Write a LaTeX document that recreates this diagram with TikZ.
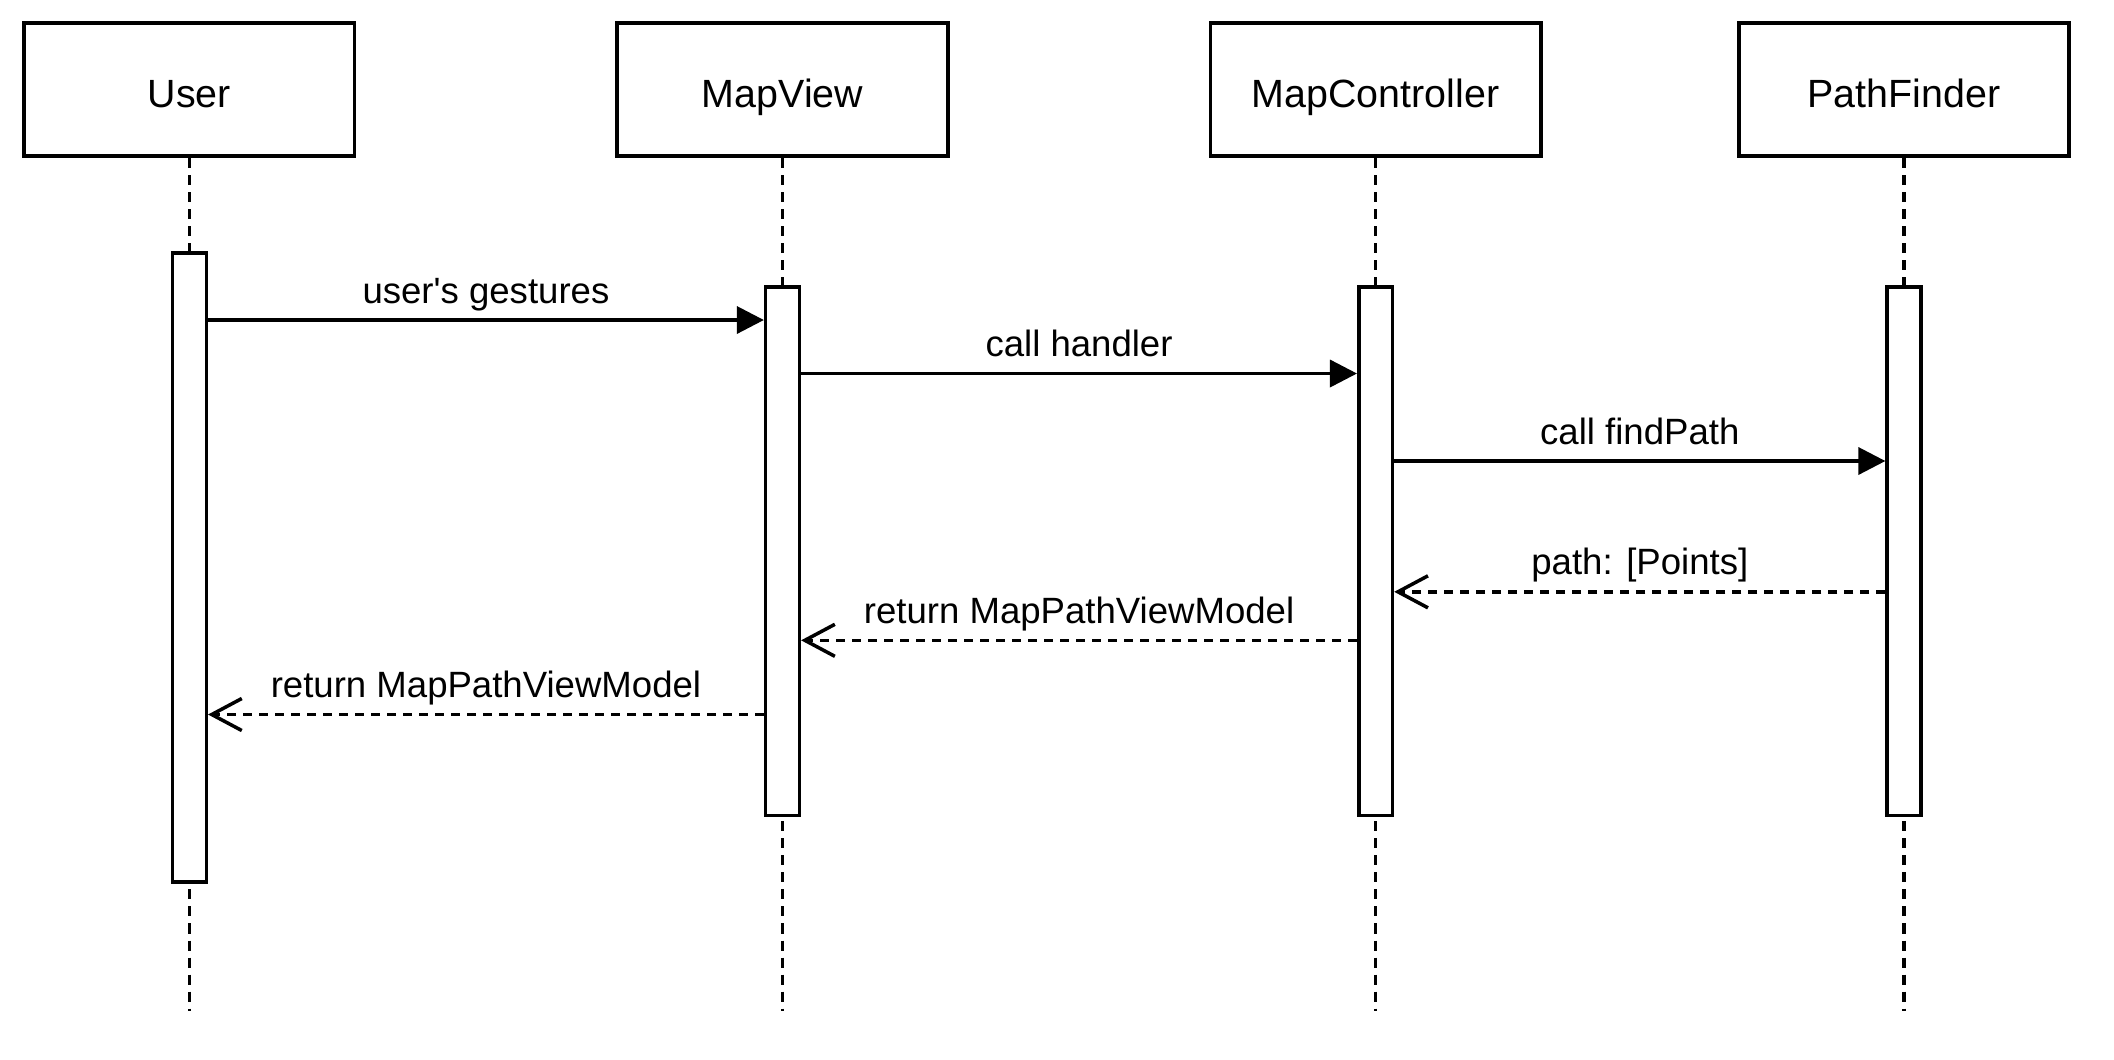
\documentclass[tikz,border=0pt]{standalone}
\usepackage{fontspec}
\setmainfont{Liberation Sans}
\usepackage{tikz}
\usetikzlibrary{arrows.meta,calc}

\begin{document}
\begin{tikzpicture}[x=0.01cm,y=-0.01cm]
\tikzstyle{obj}=[draw=black,line width=1.1pt,minimum width=3.3cm,minimum height=1.33cm,text height=2.2ex,text depth=0.3ex,font=\fontsize{11.2}{13}\selectfont]
\tikzstyle{act}=[draw=black,fill=white,line width=1pt,minimum width=0.337cm,inner sep=0pt]
\tikzstyle{life}=[line width=0.9pt,dash pattern=on 0.1cm off 0.07cm]
\tikzstyle{call}=[-{Triangle[length=0.27cm,width=0.27cm]},line width=1pt]
\tikzstyle{ret}=[-{Straight Barb[length=0.3cm,width=0.32cm]},line width=1pt,dash pattern=on 0.09cm off 0.07cm]
\tikzstyle{msg}=[font=\fontsize{10.4}{13}\selectfont,anchor=base,yshift=0.17cm,inner sep=0pt]

\useasboundingbox (0,0) rectangle (2114,1059);

\node[obj] (uBox) at (189.4,89.5) {User};
\node[obj] (vBox) at (782.5,89.5) {MapView};
\node[obj] (cBox) at (1375.6,89.5) {MapController};
\node[obj] (fBox) at (1904,89.5) {PathFinder};

\coordinate (uEnd) at (189.4,1011);
\coordinate (vEnd) at (782.5,1011);
\coordinate (cEnd) at (1375.6,1011);
\coordinate (fEnd) at (1904,1011);
\draw[life] (uBox.south) -- (uEnd);
\draw[life] (vBox.south) -- (vEnd);
\draw[life] (cBox.south) -- (cEnd);
\draw[life] (fBox.south) -- (fEnd);

\node[act,minimum height=6.282cm] (uAct) at (189.4,567.5) {};
\node[act,minimum height=5.285cm] (vAct) at (782.5,551.25) {};
\node[act,minimum height=5.285cm] (cAct) at (1375.6,551.25) {};
\node[act,minimum height=5.285cm] (fAct) at (1904,551.25) {};

\coordinate (m1) at (0,320);
\coordinate (m2) at (0,373.5);
\coordinate (m3) at (0,461);
\coordinate (m4) at (0,591.8);
\coordinate (m5) at (0,640.3);
\coordinate (m6) at (0,714.5);

\draw[call] (uAct.east |- m1) -- (vAct.west |- m1) node[msg,midway] {user\textquotesingle s gestures};
\draw[call] (vAct.east |- m2) -- (cAct.west |- m2) node[msg,midway] {call handler};
\draw[call] (cAct.east |- m3) -- (fAct.west |- m3) node[msg,midway] {call findPath};
\draw[ret] (fAct.west |- m4) -- (cAct.east |- m4) node[msg,midway] {path: [Points]};
\draw[ret] (cAct.west |- m5) -- (vAct.east |- m5) node[msg,midway] {return MapPathViewModel};
\draw[ret] (vAct.west |- m6) -- (uAct.east |- m6) node[msg,midway] {return MapPathViewModel};
\end{tikzpicture}
\end{document}
